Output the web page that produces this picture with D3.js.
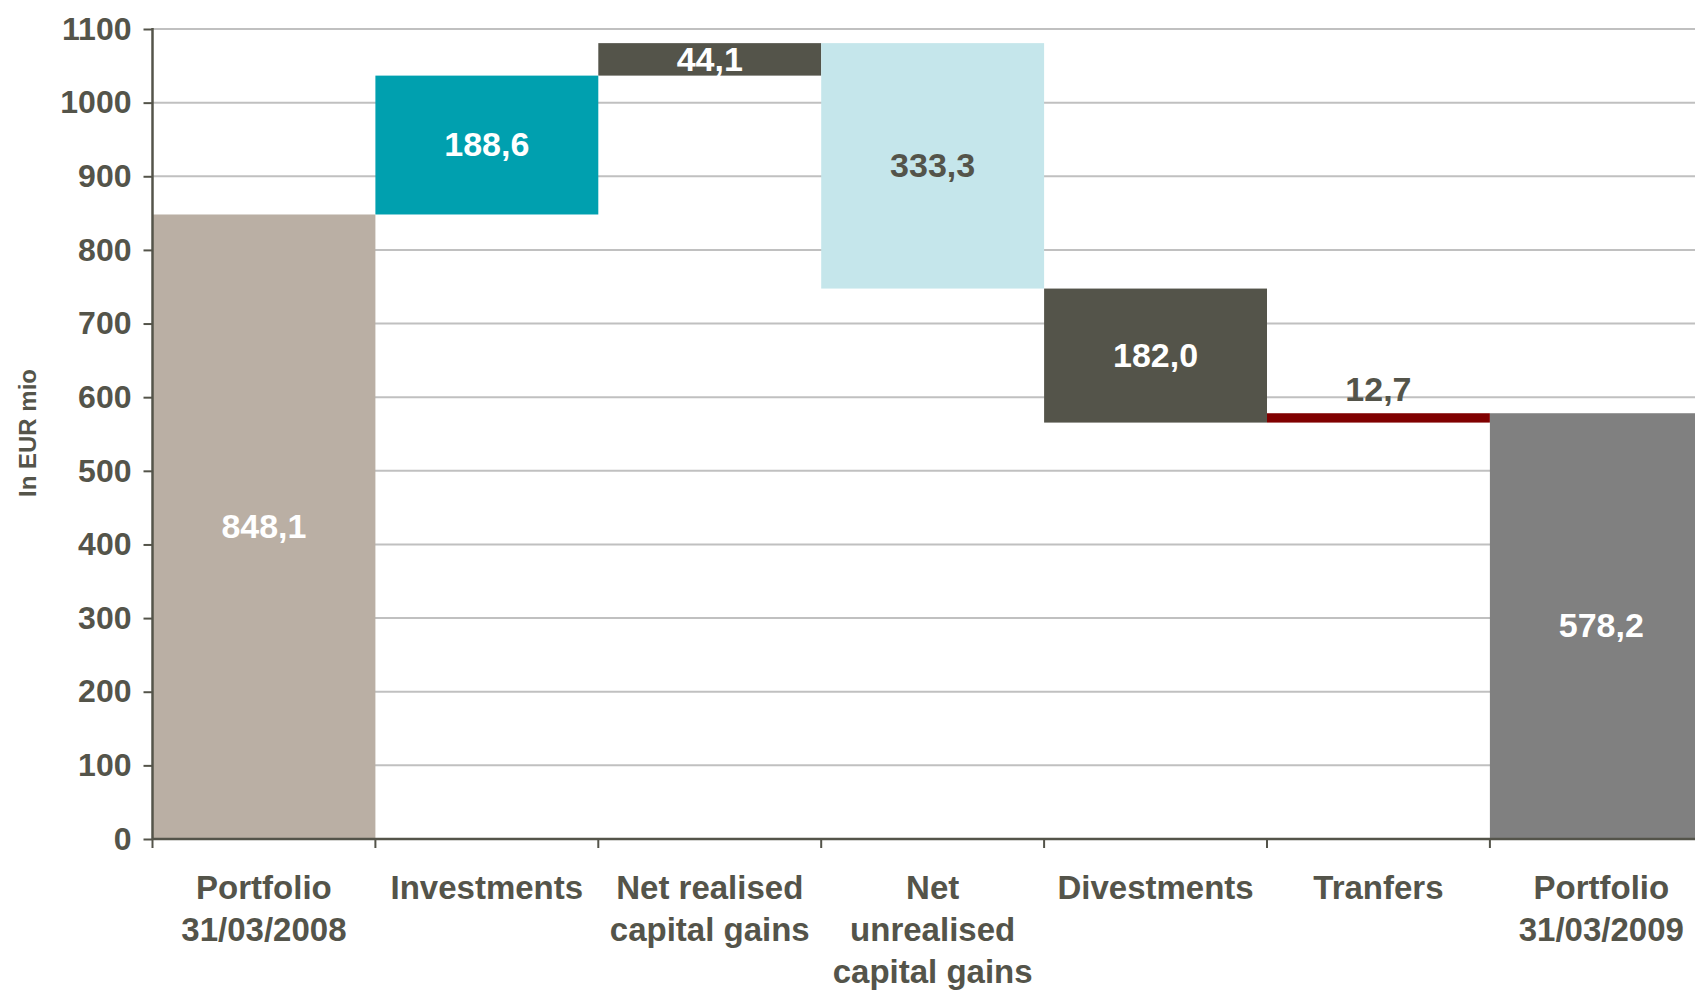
<!DOCTYPE html>
<html><head><meta charset="utf-8">
<script src="https://cdn.jsdelivr.net/npm/d3@7"></script>
<style>html,body{margin:0;padding:0;background:#fff;overflow:hidden}</style>
</head><body>
<svg id="chart" width="1695" height="990"></svg>
<script>
const categories = [["Portfolio","31/03/2008"],["Investments"],["Net realised","capital gains"],["Net","unrealised","capital gains"],["Divestments"],["Tranfers"],["Portfolio","31/03/2009"]];
const steps = [848.1, 188.6, 44.1, -333.3, -182.0, 12.7, 578.2];
const stepTypes = ["total","delta","delta","delta","delta","delta","total"];
const labels = ["848,1","188,6","44,1","333,3","182,0","12,7","578,2"];
const colors = ["#BAAFA4","#00A0AF","#54544A","#C5E6EB","#54544A","#800000","#808080"];
const labelColors = ["#fff","#fff","#fff","#54544A","#fff","#54544A","#fff"];
const yTicks = [0,100,200,300,400,500,600,700,800,900,1000,1100];

(function(){
const ink = "#54544A";
const svg = d3.select("#chart");
const mLeft = 152.5, mTop = 29, mBottom = 839, catW = 222.9;
const x = d3.scaleBand().domain(d3.range(categories.length)).range([mLeft, mLeft + catW*categories.length]).padding(0);
const y = d3.scaleLinear().domain([0,1100]).range([mBottom, mTop]);

let run = 0;
const bars = steps.map((v,i) => {
  let y0, y1;
  if (stepTypes[i] === "total") { y0 = 0; y1 = v; run = v; }
  else { y0 = run; y1 = run + v; run = y1; }
  return {i, lo: Math.min(y0,y1), hi: Math.max(y0,y1), v};
});

svg.append("g").selectAll("line").data(yTicks.filter(d=>d>0)).join("line")
  .attr("x1", mLeft).attr("x2", 1695).attr("y1", d=>y(d)).attr("y2", d=>y(d))
  .attr("stroke", "#C0C0C0").attr("stroke-width", 2);

svg.append("g").selectAll("rect").data(bars).join("rect")
  .attr("x", d=>x(d.i)).attr("width", x.bandwidth())
  .attr("y", d=>y(d.hi)).attr("height", d=>y(d.lo)-y(d.hi))
  .attr("fill", (d,i)=>colors[i]);

svg.append("g").selectAll("text").data(bars).join("text")
  .attr("x", d=>x(d.i)+x.bandwidth()/2)
  .attr("y", d=> d.i===5 ? y(d.hi)-24 : (y(d.lo)+y(d.hi))/2 - 1)
  .attr("dy","0.36em").attr("text-anchor","middle")
  .attr("font-family","'Liberation Sans', Arial, sans-serif").attr("font-weight","bold")
  .attr("font-size", 34).attr("fill",(d,i)=>labelColors[i])
  .text((d,i)=>labels[i]);

const yAxis = d3.axisLeft(y).tickValues(yTicks).tickSize(9).tickPadding(12).tickFormat(d3.format("d"));
const ga = svg.append("g").attr("transform",`translate(${mLeft},0)`).call(yAxis);
ga.select(".domain").attr("stroke", ink).attr("stroke-width",2.5).attr("d",`M0,${mTop-1}V${mBottom}`);
ga.selectAll(".tick line").attr("stroke", ink).attr("stroke-width",2);
ga.selectAll(".tick text").attr("fill", ink).attr("font-size",32).attr("font-weight","bold")
  .attr("font-family","'Liberation Sans', Arial, sans-serif");

const bounds = d3.range(categories.length+1).map(i=>mLeft+i*catW);
svg.append("line").attr("x1",mLeft).attr("x2",1695).attr("y1",mBottom).attr("y2",mBottom)
  .attr("stroke",ink).attr("stroke-width",2.5);
svg.append("g").selectAll("line").data(bounds).join("line")
  .attr("x1",d=>d).attr("x2",d=>d).attr("y1",mBottom).attr("y2",mBottom+9)
  .attr("stroke",ink).attr("stroke-width",2);

const cl = svg.append("g").selectAll("text").data(categories).join("text")
  .attr("text-anchor","middle").attr("fill",ink)
  .attr("font-family","'Liberation Sans', Arial, sans-serif").attr("font-weight","bold").attr("font-size",33);
cl.each(function(lines,i){
  const t = d3.select(this);
  lines.forEach((ln,k)=>{
    t.append("tspan").attr("x", x(i)+x.bandwidth()/2).attr("y", 887 + k*42).attr("dy","0.36em").text(ln);
  });
});

svg.append("text").attr("transform","translate(27,433) rotate(-90)")
  .attr("text-anchor","middle").attr("dy","0.36em").attr("fill",ink)
  .attr("font-family","'Liberation Sans', Arial, sans-serif").attr("font-weight","bold").attr("font-size",24)
  .text("In EUR mio");
})();
</script>
</body></html>
